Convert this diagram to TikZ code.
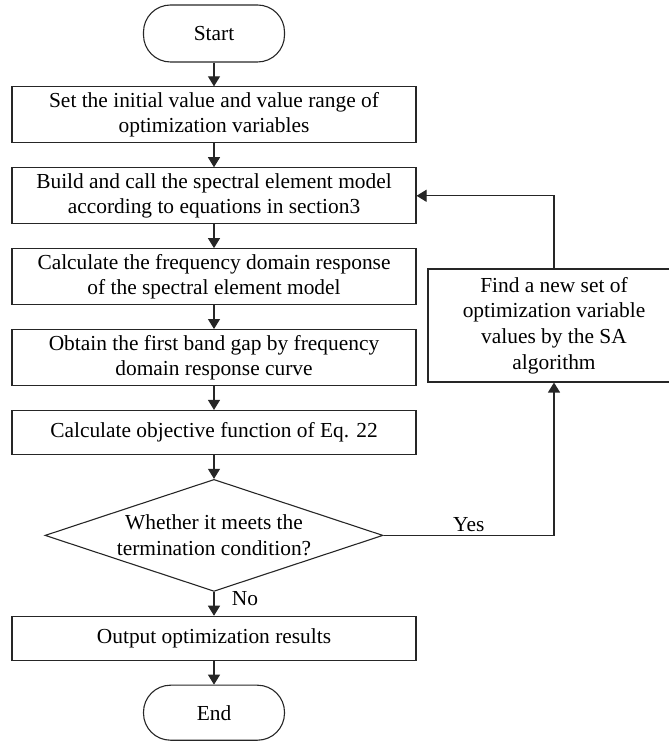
\documentclass[tikz,border=0pt]{standalone}
\usepackage{fontspec}
\setmainfont{Liberation Serif}
\usetikzlibrary{arrows.meta,positioning,shapes.geometric}

\begin{document}
\begin{tikzpicture}[
    x=1pt, y=1pt,
    node distance=23.8pt,
    box/.style={rectangle, draw=black!85, line width=1.1pt, align=center, minimum width=404pt, minimum height=56pt, inner sep=2pt, font=\fontsize{21.4}{25.7}\selectfont},
    term/.style={box, rounded corners=27pt, minimum width=141pt, minimum height=55pt},
    decision/.style={diamond, draw=black!85, line width=1.1pt, align=center, aspect=3, minimum width=338pt, minimum height=112pt, inner sep=0pt, font=\fontsize{21.4}{25.7}\selectfont},
    arrow/.style={-{Triangle[length=10pt, width=12pt]}, line width=1.1pt, draw=black!85}
]
\useasboundingbox (0,0) rectangle (669,742);
\node[term, minimum height=57pt] (start) at (214,708.5) {Start};
\node[box, below=of start] (init) {Set the initial value and value range of\\optimization variables};
\node[box, below=of init] (build) {Build and call the spectral element model\\according to equations in section3};
\node[box, below=of build] (freq) {Calculate the frequency domain response\\of the spectral element model};
\node[box, below=of freq] (gap) {Obtain the first band gap by frequency\\domain response curve};
\node[box, minimum height=44pt, below=of gap] (objective) {Calculate objective function of Eq. 22};
\node[decision, below=of objective] (check) {Whether it meets the\\termination condition?};
\node[box, minimum height=44pt, below=of check] (output) {Output optimization results};
\node[term, below=of output] (finish) {End};
\node[box, minimum width=252pt, minimum height=113pt] (newset) at (554,416.5) {Find a new set of\\optimization variable\\values by the SA\\algorithm};
\draw[arrow] (start) -- (init);
\draw[arrow] (init) -- (build);
\draw[arrow] (build) -- (freq);
\draw[arrow] (freq) -- (gap);
\draw[arrow] (gap) -- (objective);
\draw[arrow] (objective) -- (check);
\draw[arrow] (check) -- node[pos=0.3, right=14pt, font=\fontsize{21.4}{25.7}\selectfont] {No} (output);
\draw[arrow] (output) -- (finish);
\draw[arrow] (check.east) -| node[pos=0.25, above, font=\fontsize{21.4}{25.7}\selectfont] {Yes} (newset.south);
\draw[arrow] (newset.north) |- (build.east);
\end{tikzpicture}
\end{document}
